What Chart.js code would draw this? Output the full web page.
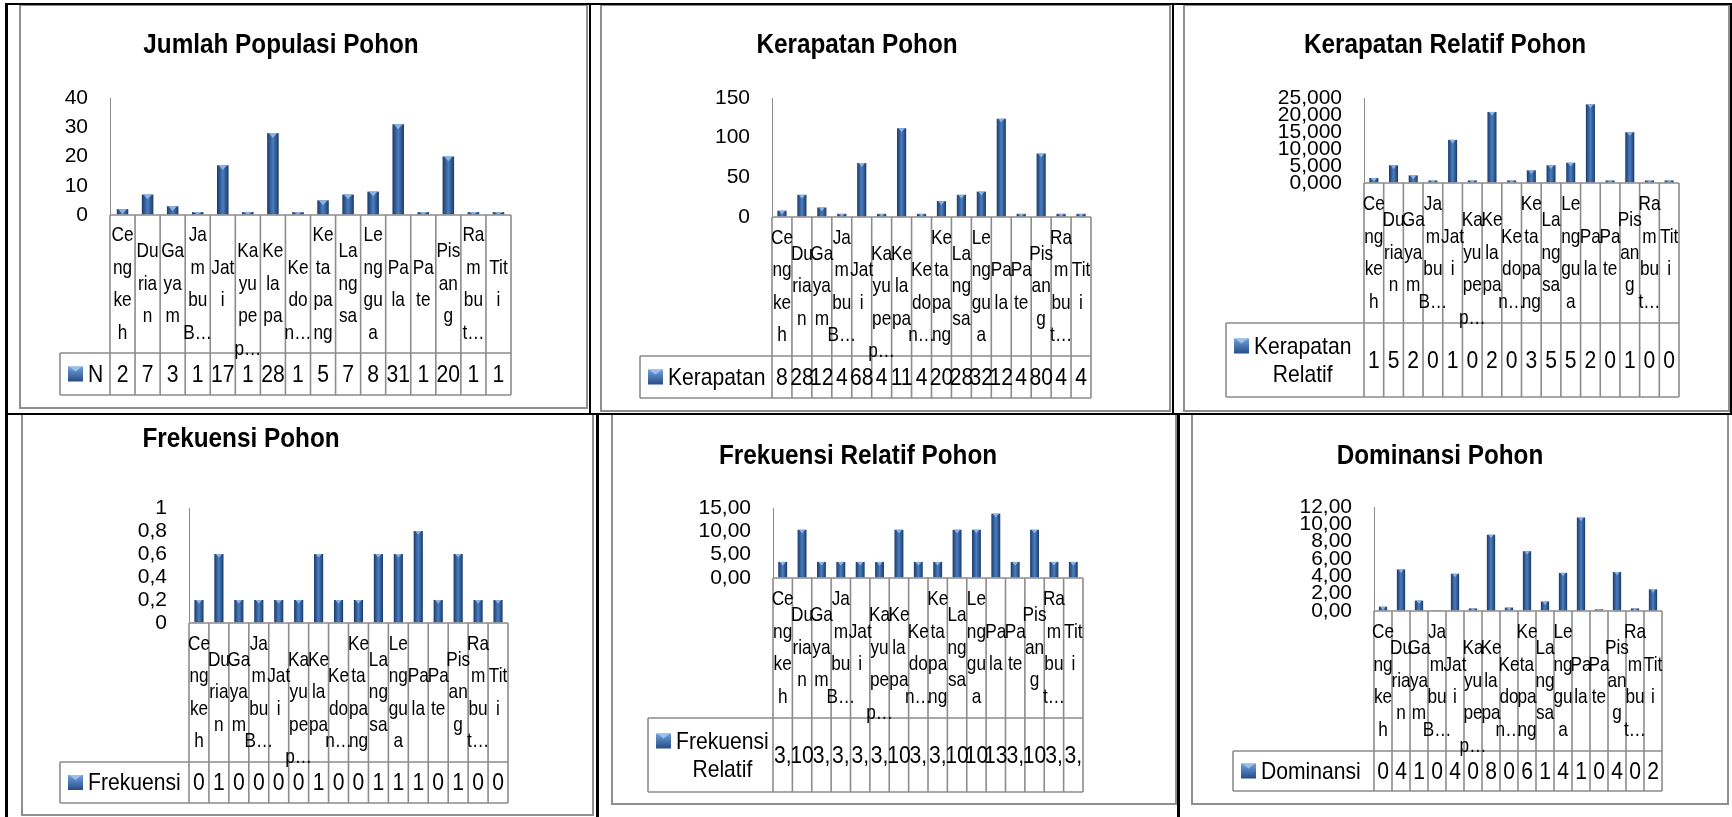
<!DOCTYPE html>
<html>
<head>
<meta charset="utf-8">
<script src="https://cdn.jsdelivr.net/npm/chart.js@4.4.0/dist/chart.umd.min.js"></script>
<style>
html,body{margin:0;padding:0;background:#fff;width:1732px;height:817px;overflow:hidden;position:relative}
.ln{position:absolute;background:#000}
.fr{position:absolute;border:2px solid #8f8f8f;box-sizing:border-box}
#charts>div{position:absolute}
</style>
</head>
<body>
<div id="frames"></div>
<div id="charts"></div>
<div id="lines">
<div class="ln" style="left:5px;top:3px;width:1727px;height:2px"></div>
<div class="ln" style="left:5px;top:3px;width:3px;height:814px"></div>
<div class="ln" style="left:589px;top:3px;width:2px;height:411px"></div>
<div class="ln" style="left:1172px;top:3px;width:2px;height:411px"></div>
<div class="ln" style="left:1730px;top:3px;width:2px;height:411px"></div>
<div class="ln" style="left:5px;top:413px;width:1727px;height:2px"></div>
<div class="ln" style="left:596px;top:413px;width:3px;height:404px"></div>
<div class="ln" style="left:1177px;top:413px;width:3px;height:404px"></div>
</div>
<script>
// ---------------- DATA ----------------
const SPECIES = ["Cengkeh","Durian","Gayam","Jambu B…","Jati","Kayu pep…","Kelapa","Kedon…","Ketapang","Langsa","Lenggua","Pala","Pate","Pisang","Rambut…","Titi"];
const SPECIES_WRAPPED = [
  ["Ce","ng","ke","h"],["Du","ria","n"],["Ga","ya","m"],["Ja","m","bu","B…"],["Jat","i"],
  ["","Ka","yu","pe","p…"],["Ke","la","pa"],["","Ke","do","n…"],["Ke","ta","pa","ng"],["La","ng","sa"],
  ["Le","ng","gu","a"],["Pa","la"],["Pa","te"],["Pis","an","g"],["Ra","m","bu","t…"],["Tit","i"]
];
const TITLES = ["Jumlah Populasi Pohon","Kerapatan Pohon","Kerapatan Relatif Pohon","Frekuensi Pohon","Frekuensi Relatif Pohon","Dominansi Pohon"];
const SERIES_NAMES = ["N","Kerapatan","Kerapatan Relatif","Frekuensi","Frekuensi Relatif","Dominansi"];
const JUMLAH_N = [2,7,3,1,17,1,28,1,5,7,8,31,1,20,1,1];
const KERAPATAN = [8,28,12,4,68,4,112,4,20,28,32,124,4,80,4,4];
const KERAPATAN_RELATIF = [1.49,5.22,2.24,0.75,12.69,0.75,20.90,0.75,3.73,5.22,5.97,23.13,0.75,14.93,0.75,0.75];
const FREKUENSI = [0.2,0.6,0.2,0.2,0.2,0.2,0.6,0.2,0.2,0.6,0.6,0.8,0.2,0.6,0.2,0.2];
const FREKUENSI_RELATIF = [3.45,10.34,3.45,3.45,3.45,3.45,10.34,3.45,3.45,10.34,10.34,13.79,3.45,10.34,3.45,3.45];
const DOMINANSI = [0.5,4.8,1.2,0.1,4.3,0.3,8.8,0.4,6.9,1.1,4.4,10.8,0.2,4.5,0.3,2.5];
const Y_MAX = [40,150,25,1,15,12];
const Y_STEP = [10,50,5,0.2,5,2];

// ---------------- STYLE / LAYOUT ----------------
const FONT = "'Liberation Sans', Arial, sans-serif";
const BAR_PCT = 0.46;
const LINE_COLOR = '#8c8c8c';
const TITLE_FONT = `bold 27px ${FONT}`, TITLE_K = 0.9;
const CAT_FONT = `21px ${FONT}`, CAT_K = 0.82;
const VAL_FONT = `24px ${FONT}`, VAL_K = 0.88;

const PANELS = [
  {title:TITLES[0], series:SERIES_NAMES[0], values:JUMLAH_N, max:Y_MAX[0], step:Y_STEP[0], tickDec:0, tickStrip:false, tableDec:0, slack:5,
   frame:[20,5,587,408], axisX:110, tableRight:511, yTop:98, yZero:215, catH:138, valH:42, legendLeft:60, titleCx:281, titleCy:46},
  {title:TITLES[1], series:SERIES_NAMES[1], values:KERAPATAN, max:Y_MAX[1], step:Y_STEP[1], tickDec:0, tickStrip:false, tableDec:0, slack:5,
   frame:[601,5,1170,411], axisX:772, tableRight:1091, yTop:98, yZero:217, catH:139, valH:42, legendLeft:640, titleCx:857, titleCy:46},
  {title:TITLES[2], series:SERIES_NAMES[2], values:KERAPATAN_RELATIF, max:Y_MAX[2], step:Y_STEP[2], tickDec:3, tickStrip:false, tableDec:2, slack:-3,
   frame:[1184,5,1729,411], axisX:1364, tableRight:1679, yTop:98, yZero:183, catH:140, valH:74, legendLeft:1226, titleCx:1445, titleCy:46},
  {title:TITLES[3], series:SERIES_NAMES[3], values:FREKUENSI, max:Y_MAX[3], step:Y_STEP[3], tickDec:1, tickStrip:true, tableDec:0, slack:5,
   frame:[22,414,593,815], canvasTop:415, axisX:189, tableRight:508, yTop:508, yZero:623, catH:139, valH:41, legendLeft:60, titleCx:241, titleCy:440},
  {title:TITLES[4], series:SERIES_NAMES[4], values:FREKUENSI_RELATIF, max:Y_MAX[4], step:Y_STEP[4], tickDec:2, tickStrip:false, tableDec:2, slack:5,
   frame:[612,414,1176,804], canvasTop:415, axisX:773, tableRight:1083, yTop:508, yZero:578, catH:140, valH:74, legendLeft:648, titleCx:858, titleCy:457},
  {title:TITLES[5], series:SERIES_NAMES[5], values:DOMINANSI, max:Y_MAX[5], step:Y_STEP[5], tickDec:2, tickStrip:false, tableDec:2, slack:-1,
   frame:[1192,414,1728,804], canvasTop:415, axisX:1374, tableRight:1662, yTop:507, yZero:611, catH:140, valH:40, legendLeft:1233, titleCx:1440, titleCy:457}
];

function fmt(v, dec, strip) {
  let s = Number(v).toFixed(dec);
  if (strip && s.indexOf('.') >= 0) s = s.replace(/0+$/, '').replace(/\.$/, '');
  return s.replace('.', ',');
}
function textW(ctx, text, font, k) {
  ctx.save(); ctx.font = font; const w = ctx.measureText(text).width * k; ctx.restore(); return w;
}
function drawText(ctx, text, x, y, font, k) {
  ctx.save();
  ctx.font = font; ctx.textAlign = 'center'; ctx.textBaseline = 'middle'; ctx.fillStyle = '#000';
  ctx.translate(x, y); ctx.scale(k, 1); ctx.fillText(text, 0, 0);
  ctx.restore();
}
function wrapWords(ctx, text, maxW, font, k) {
  const words = text.split(' '); const lines = []; let cur = '';
  words.forEach(w => {
    const t = cur ? cur + ' ' + w : w;
    if (cur && textW(ctx, t, font, k) > maxW) { lines.push(cur); cur = w; } else cur = t;
  });
  if (cur) lines.push(cur);
  return lines;
}
function barGradient(ctx, x, w) {
  const g = ctx.createLinearGradient(x - w / 2, 0, x + w / 2, 0);
  g.addColorStop(0, '#1a3a69');
  g.addColorStop(0.5, '#4a7ec0');
  g.addColorStop(1, '#1a3a69');
  return g;
}

function makeTablePlugin(p) {
  return {
    id: 'excelTable',
    afterDatasetsDraw(chart) {
      const ctx = chart.ctx;
      ctx.save();
      chart.getDatasetMeta(0).data.forEach(b => {
        const h = b.base - b.y; if (!(h > 0)) return;
        const w = b.width; const capH = Math.min(w * 0.42, h);
        ctx.fillStyle = '#8db3e2';
        ctx.beginPath();
        ctx.moveTo(b.x - w / 2 + 1.5, b.y);
        ctx.lineTo(b.x + w / 2 - 1.5, b.y);
        ctx.lineTo(b.x, b.y + capH);
        ctx.closePath(); ctx.fill();
      });
      ctx.restore();
    },
    afterDraw(chart) {
      const ctx = chart.ctx, ca = chart.chartArea, xs = chart.scales.x;
      const n = chart.data.labels.length;
      const colW = (ca.right - ca.left) / n;
      const y0 = ca.bottom, y1 = y0 + p.catH, y2 = y1 + p.valH;
      const lx = p.legendLeft - p.cl;
      // title
      drawText(ctx, p.title, p.titleCx - p.cl, p.titleCy - p.ct, TITLE_FONT, TITLE_K);
      ctx.save();
      ctx.strokeStyle = LINE_COLOR; ctx.lineWidth = 1.6;
      ctx.beginPath();
      ctx.moveTo(ca.left, y0); ctx.lineTo(ca.right, y0);
      ctx.moveTo(lx, y1); ctx.lineTo(ca.right, y1);
      ctx.moveTo(lx, y2); ctx.lineTo(ca.right, y2);
      ctx.moveTo(lx, y1); ctx.lineTo(lx, y2);
      for (let i = 0; i <= n; i++) {
        const x = i < n ? xs.getPixelForValue(i) - colW / 2 : xs.getPixelForValue(n - 1) + colW / 2;
        ctx.moveTo(x, y0); ctx.lineTo(x, y2);
      }
      ctx.stroke();
      ctx.restore();
      // category labels
      const lineH = 32.5;
      SPECIES_WRAPPED.forEach((ls, i) => {
        const cx = xs.getPixelForValue(i);
        let y = y0 + p.catH / 2 - ls.length * lineH / 2 + lineH / 2;
        ls.forEach(t => { if (t) drawText(ctx, t, cx, y, CAT_FONT, CAT_K); y += lineH; });
      });
      // values row
      const vy = (y1 + y2) / 2 + 1;
      chart.data.datasets[0].data.forEach((v, i) => {
        let s = fmt(v, p.tableDec, false);
        while (s.length > 1 && textW(ctx, s, VAL_FONT, VAL_K) > colW + p.slack) s = s.slice(0, -1);
        drawText(ctx, s, xs.getPixelForValue(i), vy, VAL_FONT, VAL_K);
      });
      // legend key
      const mx = lx + 8, mSize = 15;
      const textLeft = mx + mSize + 5;
      const lines = wrapWords(ctx, chart.data.datasets[0].label, ca.left - textLeft - 4, VAL_FONT, VAL_K);
      const lh = 28;
      const firstY = vy - (lines.length - 1) * lh / 2;
      ctx.save();
      const g = ctx.createLinearGradient(0, firstY - mSize / 2, 0, firstY + mSize / 2);
      g.addColorStop(0, '#6d9bd6'); g.addColorStop(1, '#1f477f');
      ctx.fillStyle = g;
      ctx.fillRect(mx, firstY - mSize / 2 - 1, mSize, mSize);
      ctx.fillStyle = '#9cc0ea';
      ctx.beginPath();
      ctx.moveTo(mx + 1, firstY - mSize / 2 - 1);
      ctx.lineTo(mx + mSize - 1, firstY - mSize / 2 - 1);
      ctx.lineTo(mx + mSize / 2, firstY - mSize / 2 + 4);
      ctx.closePath(); ctx.fill();
      ctx.restore();
      const maxW = Math.max(...lines.map(t => textW(ctx, t, VAL_FONT, VAL_K)));
      lines.forEach((t, k) => drawText(ctx, t, textLeft + maxW / 2, firstY + k * lh, VAL_FONT, VAL_K));
    }
  };
}

function buildFrame(p) {
  const [x0, y0, x1, y1] = p.frame;
  const d = document.createElement('div');
  d.className = 'fr';
  d.style.left = (x0 - 1) + 'px'; d.style.top = (y0 - 1) + 'px';
  d.style.width = (x1 - x0 + 2) + 'px'; d.style.height = (y1 - y0 + 2) + 'px';
  document.getElementById('frames').appendChild(d);
}

function buildPanel(p) {
  const cl = p.frame[0];
  const ct = (p.canvasTop !== undefined) ? p.canvasTop : p.frame[1];
  p.cl = cl; p.ct = ct;
  const cw = p.frame[2] - cl, ch = p.frame[3] - ct;
  const pr = p.frame[2] - p.tableRight;
  const yW = p.axisX - cl;
  const T = p.yTop - ct, B = p.yZero - ct;
  const wrap = document.createElement('div');
  wrap.style.left = cl + 'px'; wrap.style.top = ct + 'px';
  wrap.style.width = cw + 'px'; wrap.style.height = ch + 'px';
  const cv = document.createElement('canvas');
  wrap.appendChild(cv);
  document.getElementById('charts').appendChild(wrap);
  new Chart(cv, {
    type: 'bar',
    data: {
      labels: SPECIES,
      datasets: [{
        label: p.series,
        data: p.values,
        borderWidth: 0,
        barPercentage: BAR_PCT,
        categoryPercentage: 1,
        backgroundColor: (c) => {
          const chart = c.chart, ca = chart.chartArea, xs = chart.scales && chart.scales.x;
          if (!xs || !ca || c.dataIndex === undefined) return '#2f5f9e';
          const x = xs.getPixelForValue(c.dataIndex);
          const w = (ca.right - ca.left) / SPECIES.length * BAR_PCT;
          if (!isFinite(x) || !isFinite(w) || w <= 0) return '#2f5f9e';
          return barGradient(chart.ctx, x, w);
        }
      }]
    },
    options: {
      responsive: true,
      maintainAspectRatio: false,
      animation: false,
      events: [],
      layout: { padding: { left: 0, right: pr, top: T, bottom: ch - B } },
      plugins: {
        legend: { display: false },
        tooltip: { enabled: false },
        title: { display: false, text: p.title }
      },
      scales: {
        x: { display: false },
        y: {
          min: 0, max: p.max,
          afterFit: (s) => { s.width = yW; },
          ticks: {
            stepSize: p.step, autoSkip: false, padding: 22, color: '#000',
            font: { family: FONT, size: 21 },
            callback: (v) => fmt(v, p.tickDec, p.tickStrip)
          },
          grid: { drawOnChartArea: false, drawTicks: false },
          border: { display: true, color: LINE_COLOR, width: 1 }
        }
      }
    },
    plugins: [makeTablePlugin(p)]
  });
}

PANELS.forEach(buildFrame);
PANELS.forEach(buildPanel);
</script>
</body>
</html>
